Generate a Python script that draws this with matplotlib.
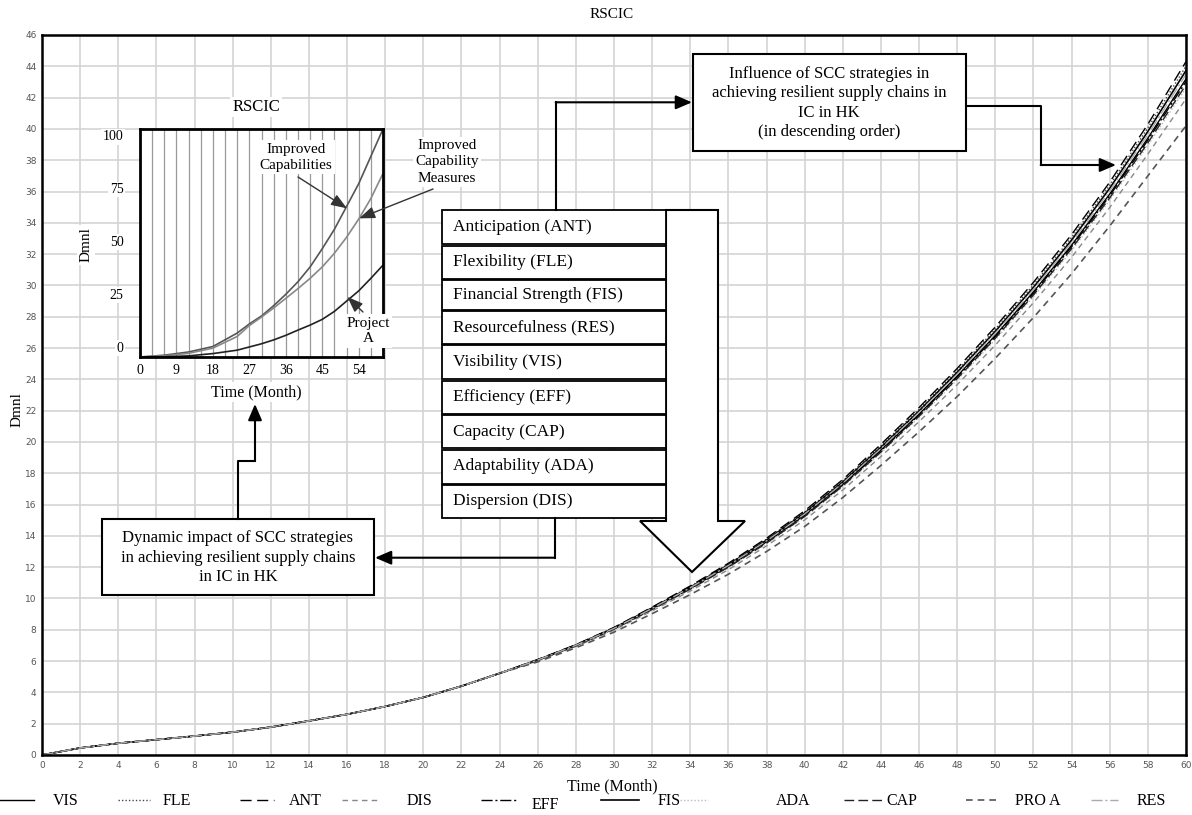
import numpy as np
import matplotlib.pyplot as plt
from matplotlib.patches import Rectangle, Polygon

plt.rcParams['font.family'] = 'Liberation Serif'

# main chart data (months every 2)
months = list(range(0, 61, 2))
early = [0, 0.45, 0.75, 0.98, 1.21, 1.46, 1.78, 2.18, 2.60, 3.10, 3.68, 4.40, 5.22]  # t = 0..24, all series

ant_late = [6.10, 7.05, 8.15, 9.45, 10.80, 12.25, 13.85, 15.60, 17.60, 19.85, 22.20, 24.70, 27.35, 30.20, 33.25, 36.60, 40.30, 44.30]
fle_late = [6.09, 7.04, 8.13, 9.42, 10.76, 12.20, 13.79, 15.53, 17.52, 19.76, 22.09, 24.57, 27.21, 30.04, 33.07, 36.40, 40.07, 44.01]
fis_late = [6.08, 7.02, 8.11, 9.39, 10.72, 12.15, 13.73, 15.46, 17.44, 19.66, 21.98, 24.45, 27.07, 29.88, 32.90, 36.21, 39.84, 43.73]
res_late = [6.07, 7.01, 8.09, 9.37, 10.69, 12.11, 13.68, 15.40, 17.37, 19.58, 21.89, 24.34, 26.95, 29.75, 32.75, 36.04, 39.64, 43.48]
vis_late = [6.06, 7.00, 8.07, 9.34, 10.65, 12.06, 13.62, 15.33, 17.29, 19.49, 21.78, 24.21, 26.81, 29.59, 32.57, 35.84, 39.41, 43.19]
eff_late = [6.05, 6.99, 8.06, 9.32, 10.63, 12.03, 13.59, 15.29, 17.24, 19.43, 21.72, 24.14, 26.73, 29.50, 32.47, 35.73, 39.28, 43.03]
cap_late = [6.05, 6.98, 8.04, 9.30, 10.60, 12.00, 13.54, 15.24, 17.19, 19.36, 21.64, 24.05, 26.63, 29.39, 32.35, 35.59, 39.11, 42.82]
ada_late = [6.04, 6.97, 8.03, 9.28, 10.57, 11.96, 13.50, 15.19, 17.13, 19.30, 21.56, 23.96, 26.53, 29.28, 32.22, 35.45, 38.95, 42.62]
dis_late = [6.01, 6.93, 7.98, 9.21, 10.48, 11.84, 13.36, 15.02, 16.93, 19.07, 21.30, 23.66, 26.19, 28.90, 31.80, 34.98, 38.39, 41.92]
proa_late = [5.95, 6.85, 7.85, 9.03, 10.25, 11.55, 13.00, 14.60, 16.45, 18.50, 20.65, 22.90, 25.35, 27.95, 30.75, 33.80, 37.00, 40.20]

series = {
    'VIS': early + vis_late,
    'FLE': early + fle_late,
    'ANT': early + ant_late,
    'DIS': early + dis_late,
    'EFF': early + eff_late,
    'FIS': early + fis_late,
    'ADA': early + ada_late,
    'CAP': early + cap_late,
    'PRO A': early + proa_late,
    'RES': early + res_late,
}

# inset data
inset_months = [0, 6, 12, 18, 24, 27, 30, 33, 36, 39, 42, 45, 48, 51, 54, 57, 60]
improved_capabilities = [0, 0.8, 2.2, 4.6, 10.5, 14.5, 18.0, 22.5, 27.5, 33.0, 39.5, 47.5, 56.0, 66.0, 76.0, 88.0, 100.0]
improved_measures = [0, 0.5, 1.6, 3.9, 9.0, 13.8, 17.5, 21.5, 25.7, 30.0, 34.5, 39.5, 45.5, 52.5, 60.5, 69.5, 80.5]
project_a = [0, 0.1, 0.5, 1.5, 3.0, 4.4, 5.8, 7.5, 9.5, 11.8, 14.0, 16.5, 20.0, 24.5, 29.0, 34.5, 40.3]
inset_xticks = [0, 9, 18, 27, 36, 45, 54]
inset_yticks = [0, 25, 50, 75, 100]

strategies = ['Anticipation (ANT)', 'Flexibility (FLE)', 'Financial Strength (FIS)',
              'Resourcefulness (RES)', 'Visibility (VIS)', 'Efficiency (EFF)',
              'Capacity (CAP)', 'Adaptability (ADA)', 'Dispersion (DIS)']

styles = {
    'VIS': dict(color='black', ls='-', lw=1.0),
    'FLE': dict(color='#444444', ls=(0, (1, 1.5)), lw=1.0),
    'ANT': dict(color='black', ls=(0, (8, 4)), lw=1.0),
    'DIS': dict(color='#888888', ls=(0, (4, 3)), lw=1.0),
    'EFF': dict(color='black', ls=(0, (8, 2, 1.5, 2)), lw=1.0),
    'FIS': dict(color='black', ls='-', lw=1.2),
    'ADA': dict(color='#bbbbbb', ls=(0, (1, 1.5)), lw=1.0),
    'CAP': dict(color='#222222', ls=(0, (7, 3)), lw=1.0),
    'PRO A': dict(color='#555555', ls=(0, (4, 3)), lw=1.2),
    'RES': dict(color='#aaaaaa', ls=(0, (8, 2, 1.5, 2)), lw=1.0),
}

W, H = 1192, 815
fig = plt.figure(figsize=(W / 100, H / 100), dpi=100)

# ---- main axes
ax = fig.add_axes([42 / W, 1 - 755 / H, (1186 - 42) / W, (755 - 35) / H])
for name, vals in series.items():
    ax.plot(months, vals, **styles[name])
ax.set_xlim(0, 60)
ax.set_ylim(0, 46)
ax.set_xticks(range(0, 61, 2))
ax.set_yticks(range(0, 47, 2))
ax.grid(color='#d4d4d4', lw=1.2)
ax.set_axisbelow(True)
ax.tick_params(length=0, labelsize=6.5, labelcolor='#555555', pad=4)
for lab in ax.get_xticklabels() + ax.get_yticklabels():
    lab.set_fontfamily('Liberation Sans Narrow')
for sp in ax.spines.values():
    sp.set_linewidth(1.8)

# ---- overlay in pixel coordinates for boxes, arrows, labels
ov = fig.add_axes([0, 0, 1, 1], zorder=2)
ov.set_xlim(0, W)
ov.set_ylim(H, 0)
ov.axis('off')

ov.text(612, 15, 'RSCIC', ha='center', va='center', fontsize=11)
ov.text(17, 410, 'Dmnl', ha='center', va='center', rotation=90, fontsize=11,
        bbox=dict(fc='white', ec='none', pad=1))
ov.text(612, 786, 'Time (Month)', ha='center', va='center', fontsize=11.5)

# big hollow arrow
ov.add_patch(Polygon([(666, 210), (718, 210), (718, 521), (745, 521), (692, 572),
                      (640, 521), (666, 521)], closed=True, fc='white', ec='black', lw=1.5))

# strategy table
row_bounds = [(210, 243.5), (245.5, 279), (280, 309.5), (310.5, 343.5), (344.5, 378.5),
              (381, 413.5), (415, 448), (449.5, 483.5), (484.5, 518)]
for text, (top, bot) in zip(strategies, row_bounds):
    ov.add_patch(Rectangle((442, top), 224, bot - top, fc='white', ec='black', lw=1.3))
    ov.text(453, (top + bot) / 2, text, ha='left', va='center', fontsize=12.5)

# text boxes
ov.add_patch(Rectangle((692.7, 54), 273.3, 97, fc='white', ec='black', lw=1.5))
ov.text(829, 103, 'Influence of SCC strategies in\nachieving resilient supply chains in\nIC in HK\n(in descending order)',
        ha='center', va='center', fontsize=12, linespacing=1.3)
ov.add_patch(Rectangle((101.7, 519), 272.3, 76, fc='white', ec='black', lw=1.5))
ov.text(238, 557.5, 'Dynamic impact of SCC strategies\nin achieving resilient supply chains\nin IC in HK',
        ha='center', va='center', fontsize=12, linespacing=1.3)

# connectors
arrow_kw = dict(arrowstyle='-|>,head_length=0.7,head_width=0.3', color='black', lw=1.5,
                shrinkA=0, shrinkB=0, mutation_scale=14)
ov.plot([555.7, 555.7], [210, 102.3], color='black', lw=1.5)
ov.annotate('', xy=(692, 102.3), xytext=(555.7, 102.3), arrowprops=arrow_kw)
ov.plot([555, 555], [518, 557.7], color='black', lw=1.5)
ov.annotate('', xy=(375, 557.7), xytext=(555, 557.7), arrowprops=arrow_kw)
ov.plot([966, 1040.7, 1040.7], [105.7, 105.7, 165], color='black', lw=1.5)
ov.annotate('', xy=(1116, 165), xytext=(1040.7, 165), arrowprops=arrow_kw)
ov.plot([237.7, 237.7, 255], [519, 460.7, 460.7], color='black', lw=1.5)
ov.annotate('', xy=(255, 404), xytext=(255, 460.7), arrowprops=arrow_kw)

# legend row
legend_pos = {'VIS': (0, 34, 53), 'FLE': (118, 150, 163), 'ANT': (240, 274, 289),
              'DIS': (342, 380, 407), 'EFF': (481, 517, 532), 'FIS': (601, 639, 658),
              'ADA': (680, 708, 776), 'CAP': (844, 882, 886), 'PRO A': (966, 996, 1015),
              'RES': (1091, 1118, 1137)}
for name, (x0, x1, xt) in legend_pos.items():
    yl = 805 if name == 'EFF' else 801
    ov.plot([x0, x1], [800, 800], **styles[name])
    ov.text(xt, yl, name, ha='left', va='center', fontsize=11.5)

# inset labels
box = dict(fc='white', ec='none', pad=1.5)
ov.text(256, 107, 'RSCIC', ha='center', va='center', fontsize=12, bbox=box)
ov.text(86, 245, 'Dmnl', ha='center', va='center', rotation=90, fontsize=11, bbox=box)
ov.text(256, 392, 'Time (Month)', ha='center', va='center', fontsize=11.5, bbox=box)

# ---- inset axes
ins = fig.add_axes([140 / W, 1 - 357 / H, (383 - 140) / W, (357 - 129) / H], zorder=3)
ins.plot(inset_months, improved_capabilities, color='#555555', lw=1.2)
ins.plot(inset_months, improved_measures, color='#888888', lw=1.2)
ins.plot(inset_months, project_a, color='#222222', lw=1.2)
ins.set_xlim(0, 60)
ins.set_ylim(0, 100)
ins.set_xticks(inset_xticks)
ins.set_xticks(range(0, 61, 3), minor=True)
ins.set_yticks([])
ins.grid(axis='x', which='both', color='#999999', lw=0.9)
ins.tick_params(axis='x', which='both', length=0, labelsize=10, pad=5)
for sp in ins.spines.values():
    sp.set_linewidth(2)
for v in inset_yticks:
    ins.text(-0.068, (9 + 2.113 * v) / 228, str(v), transform=ins.transAxes,
             ha='right', va='center', fontsize=10, bbox=dict(fc='white', ec='none', pad=1))

ins_arrow = dict(arrowstyle='-|>,head_length=0.8,head_width=0.3', color='#333333', lw=1.0,
                 shrinkA=0, shrinkB=0, mutation_scale=12)
ins.text(296, 157, 'Improved\nCapabilities', transform=ov.transData, ha='center', va='center',
         fontsize=11, linespacing=1.3, bbox=box)
ins.annotate('', xy=(51.1, 65.2), xytext=(298, 177), textcoords=ov.transData, arrowprops=ins_arrow)
ins.text(447, 162, 'Improved\nCapability\nMeasures', transform=ov.transData, ha='center', va='center',
         fontsize=11, linespacing=1.3, bbox=box)
ins.annotate('', xy=(54.1, 60.8), xytext=(433, 189), textcoords=ov.transData, arrowprops=ins_arrow)
ins.text(368, 331, 'Project\nA', transform=ov.transData, ha='center', va='center',
         fontsize=11, linespacing=1.3, bbox=box)
ins.annotate('', xy=(51.2, 26.4), xytext=(363, 312), textcoords=ov.transData, arrowprops=ins_arrow)

fig.savefig('out.png', dpi=100)
